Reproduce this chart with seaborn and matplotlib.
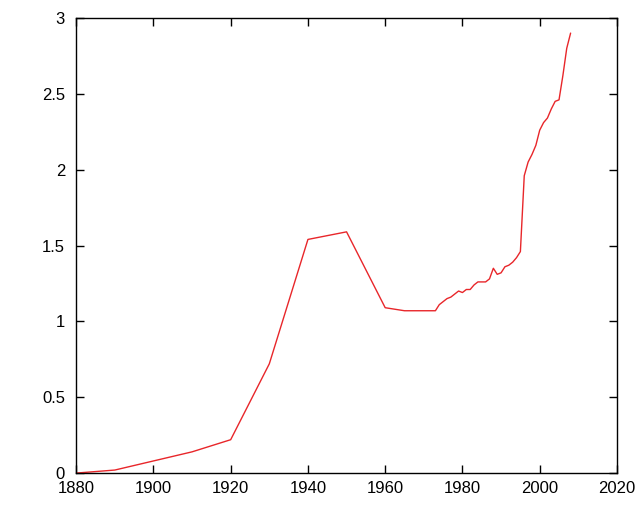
import pandas as pd
import matplotlib
matplotlib.use('Agg')
import matplotlib.pyplot as plt
import seaborn as sns

# Dữ liệu
years = [1880, 1890, 1900, 1910, 1920, 1930, 1940, 1950, 1960, 1965, 1970,
         1973, 1974, 1975, 1976, 1977, 1978, 1979, 1980, 1981, 1982, 1983,
         1984, 1985, 1986, 1987, 1988, 1989, 1990, 1991, 1992, 1993, 1994,
         1995, 1996, 1997, 1998, 1999, 2000, 2001, 2002, 2003, 2004, 2005,
         2006, 2007, 2008]
values = [0.0, 0.02, 0.08, 0.14, 0.22, 0.72, 1.54, 1.59, 1.09, 1.07, 1.07,
          1.07, 1.11, 1.13, 1.15, 1.16, 1.18, 1.20, 1.19, 1.21, 1.21, 1.24,
          1.26, 1.26, 1.26, 1.28, 1.35, 1.31, 1.32, 1.36, 1.37, 1.39, 1.42,
          1.46, 1.96, 2.05, 2.10, 2.16, 2.26, 2.31, 2.34, 2.40, 2.45, 2.46,
          2.62, 2.80, 2.90]
x_ticks = [1880, 1900, 1920, 1940, 1960, 1980, 2000, 2020]
y_ticks = [0, 0.5, 1, 1.5, 2, 2.5, 3]
y_labels = ['0', '0.5', '1', '1.5', '2', '2.5', '3']

df = pd.DataFrame({'year': years, 'value': values})

sns.set_style('ticks')
plt.rcParams['font.family'] = ['Liberation Sans', 'DejaVu Sans']

fig = plt.figure(figsize=(6.4, 5.12), dpi=100)
ax = fig.add_axes([0.119, 0.076, 0.845, 0.889])
sns.lineplot(data=df, x='year', y='value', color='#e8262a', linewidth=1.0, ax=ax)

ax.set_xlim(1880, 2020)
ax.set_ylim(0, 3)
ax.set_xticks(x_ticks)
ax.set_yticks(y_ticks)
ax.set_yticklabels(y_labels)
ax.set_xlabel('')
ax.set_ylabel('')
ax.tick_params(direction='in', length=6, width=1, top=True, right=True,
               labelsize=12, colors='black')
ax.tick_params(axis='x', pad=6)
ax.tick_params(axis='y', pad=8)
for s in ax.spines.values():
    s.set_color('black')
    s.set_linewidth(1)

fig.savefig('out.png', dpi=100)
